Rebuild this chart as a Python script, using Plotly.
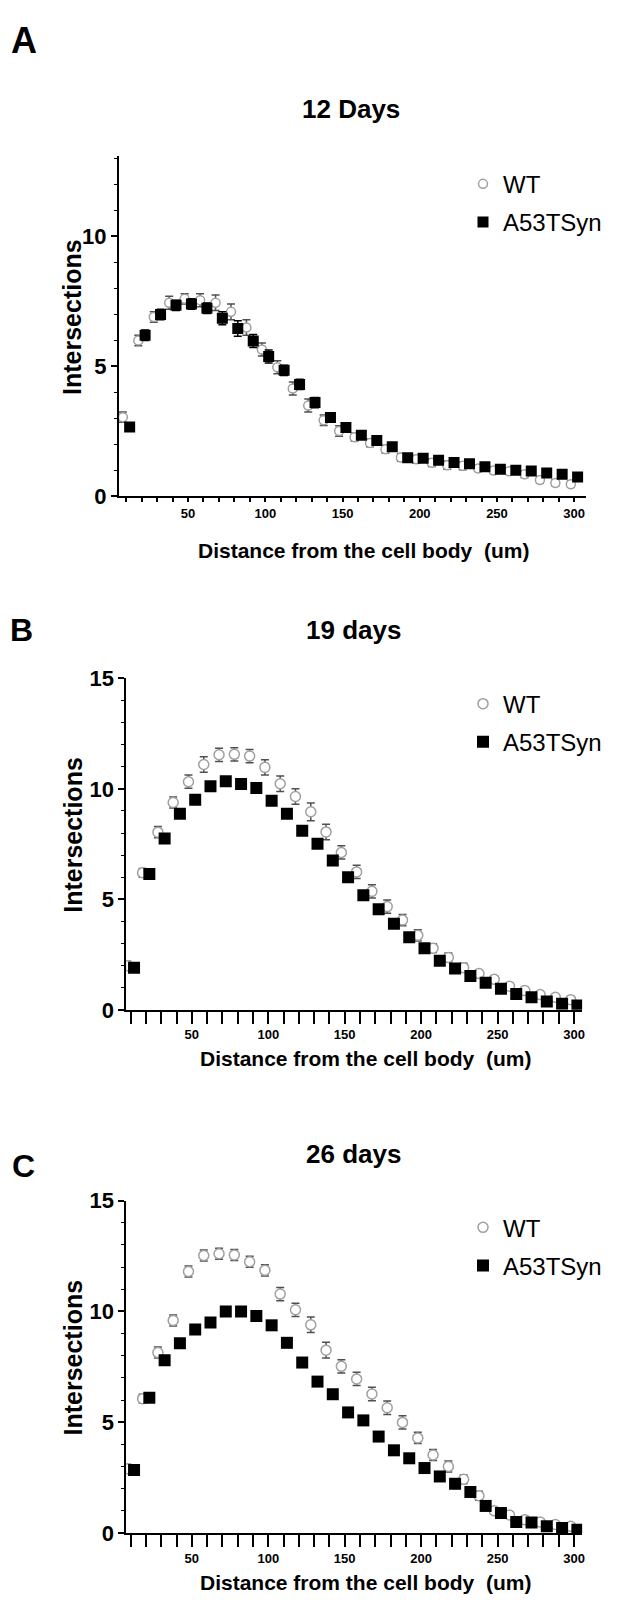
import plotly.graph_objects as go

# distance from the cell body (um), one Sholl ring every 10 um
distance = list(range(10, 310, 10))
x_tick_vals = [50, 100, 150, 200, 250, 300]

# 12 days
wt_12 = [3.05, 6.0, 6.9, 7.45, 7.6, 7.55, 7.45, 7.1, 6.5, 5.65, 4.97, 4.15, 3.5, 2.93, 2.52,
         2.28, 2.06, 1.82, 1.5, 1.43, 1.3, 1.2, 1.18, 1.08, 1.0, 0.97, 0.85, 0.63, 0.52, 0.47]
wt_12_err = [0.2, 0.2, 0.2, 0.25, 0.2, 0.25, 0.3, 0.3, 0.3, 0.25, 0.25, 0.25, 0.25, 0.2, 0.2,
             0.15, 0.15, 0.15, 0.15, 0.15, 0.15, 0.15, 0.15, 0.12, 0.12, 0.12, 0.12, 0.12, 0.12, 0.12]
syn_12 = [2.67, 6.2, 7.0, 7.35, 7.4, 7.24, 6.85, 6.46, 5.98, 5.38, 4.85, 4.31, 3.61, 3.04, 2.65,
          2.35, 2.15, 1.91, 1.49, 1.47, 1.39, 1.31, 1.26, 1.14, 1.05, 1.01, 0.98, 0.9, 0.85, 0.75]
syn_12_err = [0.15, 0.2, 0.2, 0.2, 0.2, 0.2, 0.25, 0.3, 0.25, 0.25, 0.2, 0.2, 0.2, 0.15, 0.15,
              0.15, 0.12, 0.12, 0.12, 0.12, 0.1, 0.1, 0.1, 0.1, 0.1, 0.1, 0.1, 0.1, 0.1, 0.1]

# 19 days
wt_19 = [2.0, 6.2, 8.04, 9.38, 10.32, 11.1, 11.54, 11.56, 11.48, 10.97, 10.23, 9.65, 8.96, 8.05, 7.12,
         6.24, 5.36, 4.67, 4.06, 3.37, 2.79, 2.37, 1.91, 1.64, 1.38, 1.07, 0.87, 0.69, 0.57, 0.46]
wt_19_err = [0.2, 0.2, 0.25, 0.25, 0.3, 0.35, 0.3, 0.3, 0.3, 0.35, 0.35, 0.35, 0.4, 0.35, 0.3,
             0.3, 0.3, 0.3, 0.25, 0.25, 0.2, 0.2, 0.2, 0.15, 0.15, 0.15, 0.12, 0.12, 0.1, 0.1]
syn_19 = [1.91, 6.15, 7.75, 8.87, 9.5, 10.12, 10.34, 10.22, 10.04, 9.46, 8.87, 8.1, 7.51, 6.76, 6.0,
          5.18, 4.55, 3.9, 3.29, 2.79, 2.22, 1.87, 1.53, 1.23, 0.96, 0.72, 0.57, 0.38, 0.28, 0.2]
syn_19_err = [0.15, 0.2, 0.2, 0.2, 0.2, 0.2, 0.2, 0.2, 0.2, 0.2, 0.2, 0.2, 0.2, 0.2, 0.2,
              0.2, 0.2, 0.15, 0.15, 0.15, 0.15, 0.12, 0.12, 0.12, 0.1, 0.1, 0.1, 0.1, 0.08, 0.08]

# 26 days
wt_26 = [2.9, 6.06, 8.14, 9.59, 11.8, 12.52, 12.6, 12.54, 12.24, 11.85, 10.78, 10.07, 9.39, 8.25, 7.52,
         6.95, 6.27, 5.65, 4.99, 4.29, 3.52, 3.0, 2.42, 1.68, 1.0, 0.81, 0.6, 0.5, 0.38, 0.3]
wt_26_err = [0.2, 0.2, 0.25, 0.25, 0.25, 0.25, 0.25, 0.25, 0.25, 0.25, 0.3, 0.3, 0.35, 0.35, 0.3,
             0.3, 0.3, 0.3, 0.3, 0.25, 0.25, 0.25, 0.2, 0.2, 0.15, 0.15, 0.12, 0.12, 0.1, 0.1]
syn_26 = [2.84, 6.1, 7.79, 8.56, 9.18, 9.5, 9.99, 9.99, 9.79, 9.37, 8.58, 7.69, 6.83, 6.26, 5.44,
          5.08, 4.35, 3.73, 3.37, 2.93, 2.55, 2.22, 1.85, 1.22, 0.9, 0.5, 0.47, 0.3, 0.22, 0.15]
syn_26_err = [0.15, 0.2, 0.2, 0.2, 0.2, 0.2, 0.2, 0.2, 0.2, 0.2, 0.2, 0.2, 0.2, 0.2, 0.2,
              0.2, 0.2, 0.15, 0.15, 0.15, 0.15, 0.12, 0.12, 0.12, 0.1, 0.1, 0.1, 0.1, 0.08, 0.08]

# the page body keeps its 8px margin, so the figure is 16px smaller than the window
OFF = 8
W, H = 618 - 2 * OFF, 1622 - 2 * OFF
FONT = "Liberation Sans, Arial, sans-serif"
SHIFT = 2.2  # GraphPad style nudge so the two groups do not sit on top of each other


def px(x, y):
    # window pixel position (as measured on the reference) -> paper coordinates
    return (x - OFF) / W, 1 - (y - OFF) / H


def area(left, right, top, bottom):
    x0, y0 = px(left, bottom)
    x1, y1 = px(right, top)
    return [x0, x1], [y0, y1]


def add_panel(fig, n, wt, wt_err, syn, syn_err, sq):
    suffix = '' if n == 1 else str(n)
    leg = 'legend' + suffix
    fig.add_trace(go.Scatter(
        x=[d - SHIFT for d in distance], y=wt, mode='markers', name='WT',
        xaxis='x' + suffix, yaxis='y' + suffix, legend=leg, legendgroup='wt' + suffix,
        marker=dict(symbol='circle', size=sq - 2, color='white', line=dict(color='#a0a0a0', width=1.5)),
        error_y=dict(type='data', array=wt_err, color='#505050', thickness=1.5, width=4),
    ))
    fig.add_trace(go.Scatter(
        x=[d + SHIFT for d in distance], y=syn, mode='markers', name='A53TSyn',
        xaxis='x' + suffix, yaxis='y' + suffix, legend=leg, legendgroup='syn' + suffix,
        marker=dict(symbol='square', size=sq, color='black', line=dict(color='black', width=0)),
        error_y=dict(type='data', array=syn_err, color='black', thickness=1.5, width=4),
    ))


def x_axis(domain, rng, anchor, ticklen):
    return dict(
        domain=domain, range=rng, anchor=anchor,
        showline=True, linecolor='black', linewidth=2,
        showgrid=False, zeroline=False,
        tickmode='array', tickvals=x_tick_vals,
        ticks='outside', ticklen=ticklen, tickwidth=2, tickcolor='black',
        minor=dict(dtick=10, tick0=0, ticks='outside', ticklen=ticklen, tickwidth=2, tickcolor='black'),
        tickfont=dict(family=FONT, size=13, color='black', weight='bold'),
    )


def y_axis(domain, rng, anchor, tickvals):
    return dict(
        domain=domain, range=rng, anchor=anchor,
        showline=True, linecolor='black', linewidth=2,
        showgrid=False, zeroline=False,
        tickmode='array', tickvals=tickvals,
        ticks='outside', ticklen=6, tickwidth=2, tickcolor='black',
        minor=dict(dtick=1, tick0=0, ticks='outside', ticklen=3, tickwidth=1, tickcolor='black'),
        tickfont=dict(family=FONT, size=22, color='black', weight='bold'),
    )


fig = go.Figure()
add_panel(fig, 1, wt_12, wt_12_err, syn_12, syn_12_err, 11)
add_panel(fig, 2, wt_19, wt_19_err, syn_19, syn_19_err, 12)
add_panel(fig, 3, wt_26, wt_26_err, syn_26, syn_26_err, 12)

dom_a = area(119.4, 589, 146, 492)
dom_b = area(127, 585, 676.7, 1013.5)
dom_c = area(127, 585, 1207.2, 1544.9)

legend_style = dict(font=dict(family=FONT, size=24, color='black'),
                    bgcolor='rgba(0,0,0,0)', borderwidth=0, tracegroupgap=4,
                    xanchor='right', yanchor='top', x=1)

fig.update_layout(
    width=W, height=H,
    margin=dict(l=0, r=0, t=0, b=0),
    paper_bgcolor='white', plot_bgcolor='white',
    font=dict(family=FONT, color='black'),
    xaxis=x_axis(dom_a[0], [5.2, 307.7], 'y', 4),
    yaxis=y_axis(dom_a[1], [0, 13.1], 'x', [0, 5, 10]),
    xaxis2=x_axis(dom_b[0], [7.2, 305.3], 'y2', 12),
    yaxis2=y_axis(dom_b[1], [0, 15], 'x2', [0, 5, 10, 15]),
    xaxis3=x_axis(dom_c[0], [7.2, 305.3], 'y3', 12),
    yaxis3=y_axis(dom_c[1], [0, 15], 'x3', [0, 5, 10, 15]),
    legend=dict(legend_style, y=px(0, 152)[1]),
    legend2=dict(legend_style, y=px(0, 680)[1]),
    legend3=dict(legend_style, y=px(0, 1212)[1]),
    showlegend=True,
)

# letters, titles and axis titles, placed where they sit in the reference
labels = [
    ('A', 24, 29, 36, 0), ('B', 22, 628, 32, 0), ('C', 24, 1172, 32, 0),
    ('12 Days', 353, 98, 26, 0), ('19 days', 355, 628, 26, 0), ('26 days', 355, 1160, 26, 0),
    ('Intersections', 73, 310, 25, -90), ('Intersections', 73, 836, 25, -90),
    ('Intersections', 73, 1367, 25, -90),
    ('Distance from the cell body  (um)', 365, 547, 21, 0),
    ('Distance from the cell body  (um)', 367, 1063, 21, 0),
    ('Distance from the cell body  (um)', 367, 1595, 21, 0),
]
for text, lx, ly, size, angle in labels:
    ax, ay = px(lx, ly)
    fig.add_annotation(
        text=text, x=ax, y=ay, xref='paper', yref='paper',
        xanchor='center', yanchor='middle', showarrow=False, textangle=angle,
        font=dict(family=FONT, size=size, color='black', weight='bold'),
    )

fig.write_html("out.html")
